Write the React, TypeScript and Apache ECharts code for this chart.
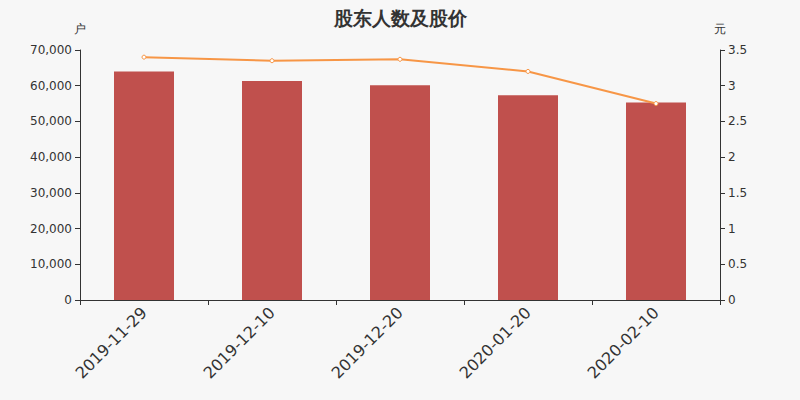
import React, { useEffect, useRef } from 'react';
import * as echarts from 'echarts';

const dates = ['2019-11-29', '2019-12-10', '2019-12-20', '2020-01-20', '2020-02-10'];
const holders = [64000, 61300, 60100, 57300, 55300];
const prices = [3.4, 3.35, 3.37, 3.2, 2.75];

const App: React.FC = () => {
  const chartRef = useRef<HTMLDivElement>(null);

  useEffect(() => {
    document.body.style.margin = '0';
    if (!chartRef.current) return;
    const myChart = echarts.init(chartRef.current, undefined, { renderer: 'svg' });
    const font = 'DejaVu Sans';
    const axisLine = { show: true, lineStyle: { color: '#333' } };
    const option = {
      animation: false,
      backgroundColor: '#f7f7f7',
      textStyle: { fontFamily: font },
      title: {
        text: '股东人数及股价',
        left: 'center',
        top: 3,
        textStyle: { fontSize: 19, fontWeight: 'bold', color: '#333', fontFamily: font },
      },
      grid: { left: 80, right: 80, top: 50, bottom: 100 },
      xAxis: {
        type: 'category',
        data: dates,
        axisLine,
        axisTick: { show: true, alignWithLabel: false },
        axisLabel: { rotate: 45, fontSize: 16, color: '#333', margin: 10 },
      },
      yAxis: [
        {
          type: 'value',
          name: '户',
          nameGap: 15,
          nameTextStyle: { color: '#333', fontSize: 12, align: 'center' },
          min: 0,
          max: 70000,
          interval: 10000,
          axisLine,
          axisTick: { show: true },
          splitLine: { show: false },
          axisLabel: {
            color: '#333',
            fontSize: 12,
            formatter: (v: number) => v.toLocaleString('en-US'),
          },
        },
        {
          type: 'value',
          name: '元',
          nameGap: 15,
          nameTextStyle: { color: '#333', fontSize: 12, align: 'center' },
          min: 0,
          max: 3.5,
          interval: 0.5,
          axisLine,
          axisTick: { show: true },
          splitLine: { show: false },
          axisLabel: { color: '#333', fontSize: 12 },
        },
      ],
      series: [
        {
          type: 'bar',
          data: holders,
          barWidth: 60,
          itemStyle: { color: '#c0504d' },
        },
        {
          type: 'line',
          yAxisIndex: 1,
          data: prices,
          symbol: 'circle',
          symbolSize: 4,
          lineStyle: { color: '#f79646', width: 2 },
          itemStyle: { color: '#fff', borderColor: '#f79646', borderWidth: 1 },
        },
      ],
    };
    myChart.setOption(option as any);
    return () => {
      myChart.dispose();
    };
  }, []);

  return <div ref={chartRef} style={{ width: 800, height: 400 }} />;
};

export default App;
